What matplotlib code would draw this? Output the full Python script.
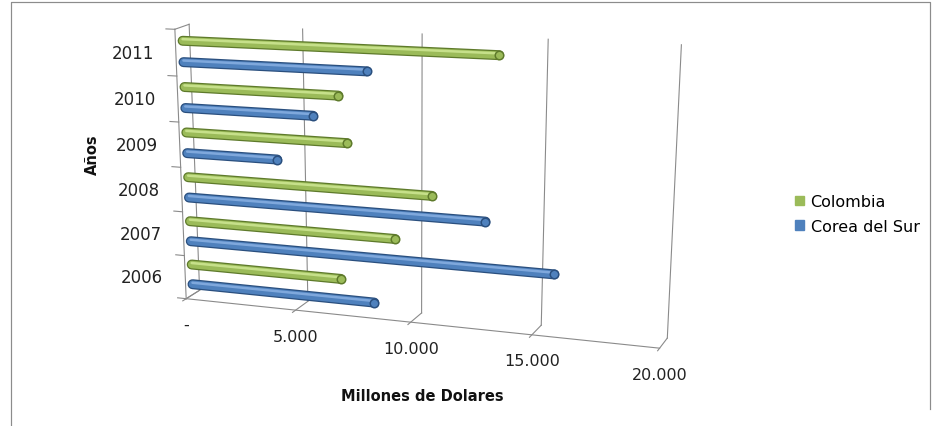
import numpy as np
import matplotlib
matplotlib.use('Agg')
import matplotlib.pyplot as plt
import matplotlib.transforms as mtransforms
from matplotlib.patches import Patch

# datos (millones de dolares)
years = ['2006', '2007', '2008', '2009', '2010', '2011']
colombia = [6750, 9100, 10650, 7100, 6750, 13300]
corea = [8200, 15650, 12850, 4050, 5650, 7950]
xticks = [0, 5000, 10000, 15000, 20000]
xticklabels = ['-', '5.000', '10.000', '15.000', '20.000']
xmax = 20000

W, H = 935, 427
DPI = 100
n = len(years)


def px(p):
    return p * 72.0 / DPI


# camera: 3d box (value/1000, row from top, depth 0=back 1=front) -> pixel
box_pts = [
    ((0, 0, 0), (189, 27)), ((5, 0, 0), (302, 30)), ((10, 0, 0), (422, 35)),
    ((15, 0, 0), (548, 40)), ((20, 0, 0), (682, 45)),
    ((0, 6, 0), (200, 290)), ((5, 6, 0), (307, 302)), ((10, 6, 0), (422, 313)),
    ((15, 6, 0), (542, 327)), ((20, 6, 0), (667, 340)),
    ((0, 6, 1), (185, 300)), ((5, 6, 1), (297, 312)), ((10, 6, 1), (412, 323)),
    ((15, 6, 1), (532, 337)), ((20, 6, 1), (658, 348)),
    ((0, 0, 1), (175, 30)), ((0, 1, 1), (177, 77)), ((0, 2, 1), (179, 123)),
    ((0, 3, 1), (181, 167)), ((0, 4, 1), (182, 213)), ((0, 5, 1), (184, 257)),
]


def fit_camera(pts):
    A = []
    for (X, Y, Z), (u, v) in pts:
        A.append([X, Y, Z, 1, 0, 0, 0, 0, -u * X, -u * Y, -u * Z, -u])
        A.append([0, 0, 0, 0, X, Y, Z, 1, -v * X, -v * Y, -v * Z, -v])
    _, _, vt = np.linalg.svd(np.array(A, float))
    return vt[-1].reshape(3, 4)


P = fit_camera(box_pts)


class Plane(mtransforms.Transform):
    # 2d coords on one face of the box -> pixel
    input_dims = 2
    output_dims = 2

    def __init__(self, M):
        super().__init__()
        self.M = M

    def transform_non_affine(self, values):
        values = np.asarray(values, float).reshape(-1, 2)
        p = np.column_stack([values, np.ones(len(values))]) @ self.M.T
        return p[:, :2] / p[:, 2:3]


def wall(z):
    # (value, row) at depth z
    return np.column_stack([P[:, 0] / 1000.0, P[:, 1], P[:, 2] * z + P[:, 3]])


def floor_plane(row):
    # (value, depth) at given row
    return np.column_stack([P[:, 0] / 1000.0, P[:, 2], P[:, 1] * row + P[:, 3]])


def side_plane(value):
    # (depth, row) at given value
    return np.column_stack([P[:, 2], P[:, 1], P[:, 0] * value / 1000.0 + P[:, 3]])


fig = plt.figure(figsize=(W / DPI, H / DPI), dpi=DPI)
ax = fig.add_axes([0, 0, 1, 1])
ax.set_xlim(0, W)
ax.set_ylim(H, 0)
ax.axis('off')

back = Plane(wall(0)) + ax.transData
front = Plane(wall(1)) + ax.transData
mid = Plane(wall(0.5)) + ax.transData
floor = Plane(floor_plane(n)) + ax.transData
side = Plane(side_plane(0)) + ax.transData

grid_c = '#8a8a8a'
glw = px(1.1)
# frame
ax.plot([11, 11, 930, 930], [427, 3, 3, 410], color='#8c8c8c', lw=px(1.2))

# gridlines on back wall + floor
for t in xticks:
    ax.plot([t, t], [0, n], transform=back, color=grid_c, lw=glw)
    ax.plot([t, t], [0, 1.25], transform=floor, color=grid_c, lw=glw)
ax.plot([0, xmax], [1, 1], transform=floor, color=grid_c, lw=glw)

# side wall / y axis
ax.plot([1, 1], [0, n], transform=side, color=grid_c, lw=glw)
ax.plot([0, 1], [0, 0], transform=side, color=grid_c, lw=glw)
ax.plot([0, 1], [n, n], transform=side, color=grid_c, lw=glw)
for k in range(n + 1):
    ax.plot([-400, 0], [k, k], transform=front, color=grid_c, lw=glw)


def cylinder(val, v, color, dark, light):
    ax.plot([0, val], [v, v], transform=mid, color=dark, lw=px(10),
            solid_capstyle='round', zorder=3)
    ax.plot([0, val], [v, v], transform=mid, color=color, lw=px(7.5),
            solid_capstyle='round', zorder=4)
    ax.plot([0, val], [v - 0.035, v - 0.035], transform=mid, color=light,
            lw=px(2.5), solid_capstyle='round', zorder=5)
    ax.plot([val], [v], transform=mid, marker='o', ms=px(8.5), mfc=color,
            mec=dark, mew=px(1.5), zorder=6)


green, green_d, green_l = '#9bbb59', '#5e7a2b', '#c6e08a'
blue, blue_d, blue_l = '#4f81bd', '#2a4f7e', '#7fa8dc'

for i in range(n):
    band = n - 1 - i
    cylinder(colombia[i], band + 0.3, green, green_d, green_l)
    cylinder(corea[i], band + 0.76, blue, blue_d, blue_l)

# category labels
for i, y in enumerate(years):
    band = n - 1 - i
    ax.annotate(y, xy=(0, band + 0.5), xycoords=front, xytext=(-22, 0),
                textcoords='offset pixels', ha='right', va='center',
                fontsize=12, color='#222222')

# value labels
for t, lab in zip(xticks, xticklabels):
    ax.annotate(lab, xy=(t, 1), xycoords=floor, xytext=(0, -26),
                textcoords='offset pixels', ha='center', va='center',
                fontsize=11.5, color='#222222')

ax.text(92, 155, 'Años', rotation=90, ha='center', va='center',
        fontsize=10.5, fontweight='bold', color='#111111')
ax.text(422, 397, 'Millones de Dolares', ha='center', va='center',
        fontsize=10.5, fontweight='bold', color='#111111')

handles = [Patch(color=green, label='Colombia'), Patch(color=blue, label='Corea del Sur')]
ax.legend(handles=handles, loc='center left', bbox_to_anchor=(789 / W, 1 - 215 / H),
          frameon=False, fontsize=11.5, handlelength=0.55, handleheight=0.55,
          handletextpad=0.4, labelspacing=0.6, borderaxespad=0)

fig.savefig('out.png', dpi=DPI)
